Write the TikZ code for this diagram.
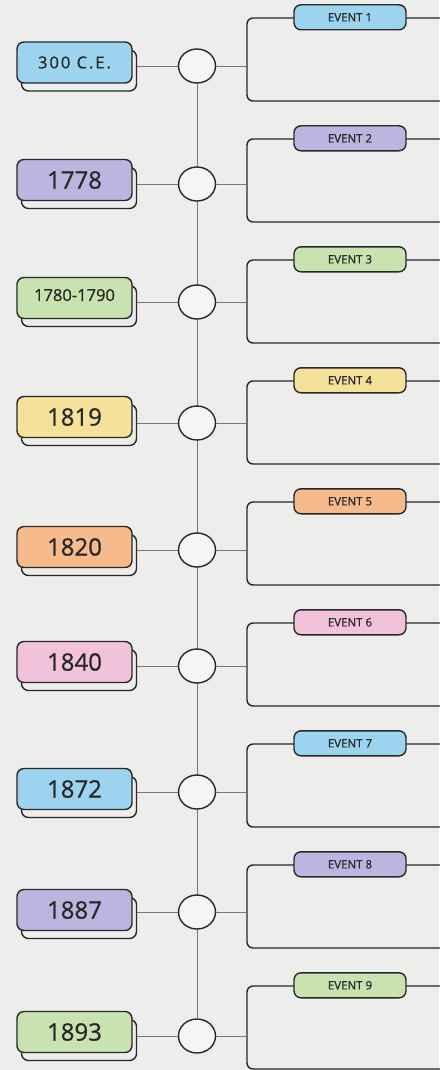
\documentclass[tikz,border=0pt]{standalone}
\usepackage{fontspec}
\setmainfont{Open Sans}
\newfontfamily\handfont[FakeBold=0.8]{Open Sans}
\usetikzlibrary{shapes.geometric, positioning, calc, backgrounds, shadows}
\definecolor{paper}{RGB}{237, 237, 235}
\definecolor{ringfill}{RGB}{245, 245, 243}
\definecolor{boxdark}{RGB}{40, 40, 40}
\definecolor{linegray}{RGB}{120, 120, 120}
\definecolor{evblue}{HTML}{9CD3EF}
\definecolor{evpurple}{HTML}{BDB5E0}
\definecolor{evgreen}{HTML}{C8E3B0}
\definecolor{evyellow}{HTML}{F6E19A}
\definecolor{evorange}{HTML}{F7BA8D}
\definecolor{evpink}{HTML}{F2C1DA}

\begin{document}
\begin{tikzpicture}[
        x=1pt, y=-1pt,
        datebox/.style={rectangle, rounded corners=7pt, draw=boxdark, line width=1.4pt, minimum width=115pt, minimum height=41pt, align=center, text=boxdark, font=\handfont\fontsize{24}{26}\selectfont,
            copy shadow={shadow xshift=4.5pt, shadow yshift=-8pt, fill=paper, draw=boxdark, line width=1.4pt}},
        smalldate/.style={font=\handfont\fontsize{16.5}{18}\selectfont\addfontfeatures{LetterSpace=12}},
        ring/.style={ellipse, draw=boxdark, line width=1.4pt, fill=ringfill, minimum width=37pt, minimum height=34pt, inner sep=0pt},
        card/.style={rectangle, rounded corners=6pt, draw=boxdark, line width=1.4pt, minimum width=206pt, minimum height=83pt},
        tag/.style={rectangle, rounded corners=7pt, draw=boxdark, line width=1.4pt, minimum width=112pt, minimum height=25pt, text=boxdark, font=\handfont\fontsize{11.5}{13}\selectfont},
        line/.style={color=linegray, line width=0.9pt}
    ]
    \useasboundingbox (0,0) rectangle (439,1070);

    %% --- Row 1 ---
    \node[datebox, smalldate, fill=evblue] (d1) at (74.5, 62.5) {300 C.E.};
    \node[ring] (c1) at (197, 66) {};
    \node[card] (k1) at (350, 59.5) {};
    \node[tag, fill=evblue] (e1) at (k1.north) {EVENT 1};

    %% --- Row 2 ---
    \node[datebox, fill=evpurple] (d2) at (74.5, 180) {1778};
    \node[ring] (c2) at (197, 184) {};
    \node[card] (k2) at (350, 180.5) {};
    \node[tag, fill=evpurple] (e2) at (k2.north) {EVENT 2};

    %% --- Row 3 ---
    \node[datebox, fill=evgreen, font=\handfont\fontsize{16.5}{18}\selectfont] (d3) at (74.5, 298) {\raisebox{6pt}{1780-1790}};
    \node[ring] (c3) at (197, 302) {};
    \node[card] (k3) at (350, 301.5) {};
    \node[tag, fill=evgreen] (e3) at (k3.north) {EVENT 3};

    %% --- Row 4 ---
    \node[datebox, fill=evyellow] (d4) at (74.5, 417) {1819};
    \node[ring] (c4) at (197, 423) {};
    \node[card] (k4) at (350, 422.5) {};
    \node[tag, fill=evyellow] (e4) at (k4.north) {EVENT 4};

    %% --- Row 5 ---
    \node[datebox, fill=evorange] (d5) at (74.5, 547) {1820};
    \node[ring] (c5) at (197, 550) {};
    \node[card] (k5) at (350, 543.5) {};
    \node[tag, fill=evorange] (e5) at (k5.north) {EVENT 5};

    %% --- Row 6 ---
    \node[datebox, fill=evpink] (d6) at (74.5, 662) {1840};
    \node[ring] (c6) at (197, 666) {};
    \node[card] (k6) at (350, 664.5) {};
    \node[tag, fill=evpink] (e6) at (k6.north) {EVENT 6};

    %% --- Row 7 ---
    \node[datebox, fill=evblue] (d7) at (74.5, 789) {1872};
    \node[ring] (c7) at (197, 792) {};
    \node[card] (k7) at (350, 785.5) {};
    \node[tag, fill=evblue] (e7) at (k7.north) {EVENT 7};

    %% --- Row 8 ---
    \node[datebox, fill=evpurple] (d8) at (74.5, 910) {1887};
    \node[ring] (c8) at (197, 912) {};
    \node[card] (k8) at (350, 906.5) {};
    \node[tag, fill=evpurple] (e8) at (k8.north) {EVENT 8};

    %% --- Row 9 ---
    \node[datebox, fill=evgreen] (d9) at (74.5, 1032) {1893};
    \node[ring] (c9) at (197, 1036) {};
    \node[card] (k9) at (350, 1027.5) {};
    \node[tag, fill=evgreen] (e9) at (k9.north) {EVENT 9};

    %% --- Paper, spine and thin connectors behind everything ---
    \begin{scope}[on background layer]
        \fill[paper] (0,0) rectangle (439,1070);
        \draw[line] (c1.south) -- (c9.north);
        \draw[line] (c1.west) -- (c1.west -| d1.east);
        \draw[line] (c2.west) -- (c2.west -| d2.east);
        \draw[line] (c3.west) -- (c3.west -| d3.east);
        \draw[line] (c4.west) -- (c4.west -| d4.east);
        \draw[line] (c5.west) -- (c5.west -| d5.east);
        \draw[line] (c6.west) -- (c6.west -| d6.east);
        \draw[line] (c7.west) -- (c7.west -| d7.east);
        \draw[line] (c8.west) -- (c8.west -| d8.east);
        \draw[line] (c9.west) -- (c9.west -| d9.east);
        \draw[line] (c1.east) -- (c1.east -| k1.west);
        \draw[line] (c2.east) -- (c2.east -| k2.west);
        \draw[line] (c3.east) -- (c3.east -| k3.west);
        \draw[line] (c4.east) -- (c4.east -| k4.west);
        \draw[line] (c5.east) -- (c5.east -| k5.west);
        \draw[line] (c6.east) -- (c6.east -| k6.west);
        \draw[line] (c7.east) -- (c7.east -| k7.west);
        \draw[line] (c8.east) -- (c8.east -| k8.west);
        \draw[line] (c9.east) -- (c9.east -| k9.west);
    \end{scope}
\end{tikzpicture}
\end{document}
